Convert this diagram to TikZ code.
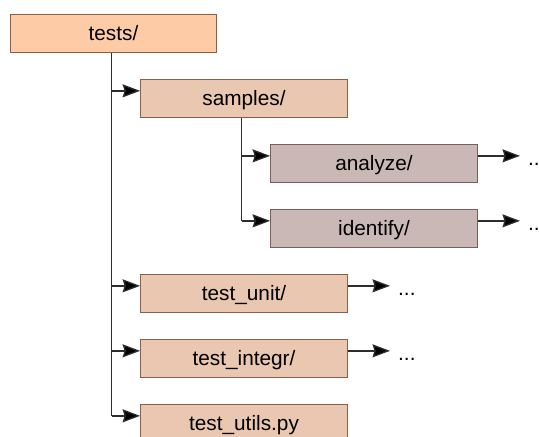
\documentclass[tikz,border=0pt]{standalone}
\usepackage{fontspec}
\setmainfont{Liberation Sans}
\usetikzlibrary{arrows.meta,calc}

\definecolor{rootfill}{RGB}{253,204,166}
\definecolor{dirfill}{RGB}{233,199,176}
\definecolor{subfill}{RGB}{201,184,181}
\definecolor{boxline}{RGB}{140,95,70}
\definecolor{subline}{RGB}{120,95,90}
\definecolor{wire}{RGB}{45,45,45}

\tikzset{
  box/.style={rectangle, draw=boxline, line width=1.3pt, inner sep=0pt,
    minimum width=206.5pt, minimum height=38pt,
    text height=16pt, text depth=3pt,
    font=\fontsize{20.8}{25}\selectfont},
  rootbox/.style={box, fill=rootfill},
  dirbox/.style={box, fill=dirfill},
  subbox/.style={box, fill=subfill, draw=subline},
  trunkline/.style={draw=wire, line width=1.3pt},
  tip/.style={draw=wire, line width=1.3pt,
    -{Stealth[length=17.5pt, width=13pt, inset=2pt, fill=black]}},
  more/.style={inner xsep=8pt, inner ysep=0pt,
    font=\fontsize{20.8}{25}\selectfont}
}

\begin{document}
\begin{tikzpicture}[x=1pt, y=-1pt]
  \useasboundingbox (0,0) rectangle (539,437);
  \clip (0,0) rectangle (539,437);

  % directory boxes
  \node[rootbox] (tests)    at (113.5, 33.5)  {tests/};
  \node[dirbox]  (samples)  at (244,   98.5)  {samples/};
  \node[subbox]  (analyze)  at (374,  163.5)  {analyze/};
  \node[subbox]  (identify) at (374,  228.5)  {identify/};
  \node[dirbox]  (unit)     at (244,  293.5)  {test\_unit/};
  \node[dirbox]  (integr)   at (244,  358.5)  {test\_integr/};
  \node[dirbox]  (utils)    at (244,  423.5)  {test\_utils.py};

  % entry and exit points, a little above each box's middle
  \foreach \n in {samples, analyze, identify, unit, integr, utils} {
    \coordinate (\n-in)  at ([yshift=-12pt]\n.north west);
    \coordinate (\n-out) at ([yshift=-12pt]\n.north east);
  }

  % vertical trunks
  \coordinate (trunk)   at (111.7, 0);
  \coordinate (sbranch) at (241.7, 0);
  \draw[trunkline] (tests.south -| trunk) -- (trunk |- utils-in);
  \draw[trunkline] (samples.south -| sbranch) -- (sbranch |- identify-in);

  % branches into the children
  \foreach \n in {samples, unit, integr, utils}
    \draw[tip] (trunk |- \n-in) -- (\n-in);
  \foreach \n in {analyze, identify}
    \draw[tip] (sbranch |- \n-in) -- (\n-in);

  % continuation markers
  \node[more, anchor=base west] (analyze-more)  at (520, 165) {...};
  \node[more, anchor=base west] (identify-more) at (520, 230) {...};
  \node[more, anchor=base west] (unit-more)     at (390, 295) {...};
  \node[more, anchor=base west] (integr-more)   at (390, 360) {...};
  \foreach \n in {analyze, identify, unit, integr}
    \draw[tip] (\n-out) -- (\n-out -| \n-more.west);
\end{tikzpicture}
\end{document}
